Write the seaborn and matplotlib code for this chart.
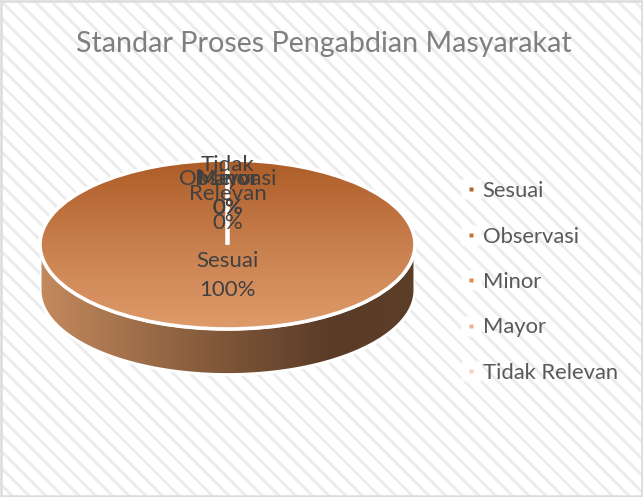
import matplotlib
matplotlib.use("Agg")
import matplotlib.pyplot as plt
import seaborn as sns
import numpy as np
from matplotlib.colors import LinearSegmentedColormap
from matplotlib.lines import Line2D
from matplotlib.patches import PathPatch, Rectangle
from matplotlib.path import Path

categories = ["Sesuai", "Observasi", "Minor", "Mayor", "Tidak Relevan"]
percent = [100, 0, 0, 0, 0]
legend_colors = ["#b5622c", "#c9733a", "#e8853f", "#f3ae92", "#f8cfc0"]
title = "Standar Proses Pengabdian Masyarakat"

sns.set_theme(style="white")
plt.rcParams["font.family"] = ["Lato", "DejaVu Sans"]
plt.rcParams["hatch.linewidth"] = 2.1

W, H = 643, 497
fig = plt.figure(figsize=(W / 100, H / 100), dpi=100)

# page background with the diagonal stripes and grey border
bg = fig.add_axes([0, 0, 1, 1])
bg.set_xlim(0, W)
bg.set_ylim(H, 0)
bg.axis("off")
bg.add_patch(Rectangle((0, 0), W, H, facecolor="white", edgecolor="#ececec", hatch="\\\\", lw=0))
bg.add_patch(Rectangle((1.2, 1.2), W - 2.4, H - 2.4, facecolor="none", edgecolor="#dcdcdc", lw=1.8))
bg.text(324, 44, title, ha="center", va="center", fontsize=20.6, color="#7f7f7f")

# pie axes, squashed so the circle turns into the tilted ellipse
depth = 0.54
left, right, top, bottom = 40, 415, 160, 329
wall = depth * (bottom - top) / 2 + 4
ax = fig.add_axes([left / W, 1 - (bottom + wall) / H, (right - left) / W, (bottom + wall - top) / H])
wedges, texts = ax.pie(percent, startangle=90, counterclock=False, radius=1,
                       labels=[f"{c}\n{p}%" for c, p in zip(categories, percent)],
                       labeldistance=0.35,
                       wedgeprops=dict(facecolor="none", edgecolor="white", linewidth=2.6, zorder=3, clip_on=False),
                       textprops=dict(fontsize=16, color="#404040", ha="center", va="center",
                                      linespacing=1.55, zorder=5))
ax.set_aspect("auto")
ax.set_xlim(-1, 1)
ax.set_ylim(-1 - 2 * wall / (bottom - top), 1)
ax.axis("off")

for t, lab, y in zip(texts, ["Sesuai\n100%", "Observasi\n0%", "Minor\n0%", "Mayor\n0%", "Tidak\nRelevan\n0%"],
                     [-0.37, 0.6, 0.6, 0.6, 0.6]):
    t.set_text(lab)
    t.set_position((0, y))
    t.set_ha("center")
    t.set_va("center")

# top face gradient, clipped to the pie wedge
top_cmap = LinearSegmentedColormap.from_list("top", ["#ad5c26", "#c87f4e", "#df9b6a"])
im = ax.imshow(np.linspace(0, 1, 256)[:, None], cmap=top_cmap, extent=(-1, 1, -1, 1),
               origin="upper", aspect="auto", zorder=2)
im.set_clip_path(wedges[0])

# side wall of the disc
th = np.linspace(np.pi, 2 * np.pi, 200)
outer = np.c_[np.cos(th), np.sin(th) - depth]
inner = np.c_[np.cos(th[::-1]), np.sin(th[::-1])]
verts = np.vstack([outer, inner, outer[:1]])
codes = [Path.MOVETO] + [Path.LINETO] * (len(verts) - 2) + [Path.CLOSEPOLY]
side = PathPatch(Path(verts, codes), facecolor="none", edgecolor="white", lw=2.2, zorder=1.5)
ax.add_patch(side)
side_cmap = LinearSegmentedColormap.from_list(
    "side", [(0, "#c48a5e"), (0.5, "#7d5538"), (0.78, "#5a3b27"), (1, "#5d3e28")])
im2 = ax.imshow(np.linspace(0, 1, 256)[None, :], cmap=side_cmap, extent=(-1, 1, -1 - depth, 0),
                aspect="auto", zorder=1)
im2.set_clip_path(side)
ax.set_xlim(-1, 1)
ax.set_ylim(-1 - 2 * wall / (bottom - top), 1)

# legend
handles = [Line2D([], [], ls="none", marker="s", ms=3, mfc=c, mec="none") for c in legend_colors]
backs = [Line2D([], [], ls="none", marker="s", ms=14, mfc="white", mec="none") for c in legend_colors]
fig.legend([(b, h) for b, h in zip(backs, handles)], categories,
           loc="center left", bbox_to_anchor=(440 / W, 1 - 282 / H), frameon=False,
           fontsize=15.8, labelcolor="#595959", labelspacing=1.16, handlelength=1.0, handletextpad=0.05)

fig.savefig("out.png", dpi=100)
